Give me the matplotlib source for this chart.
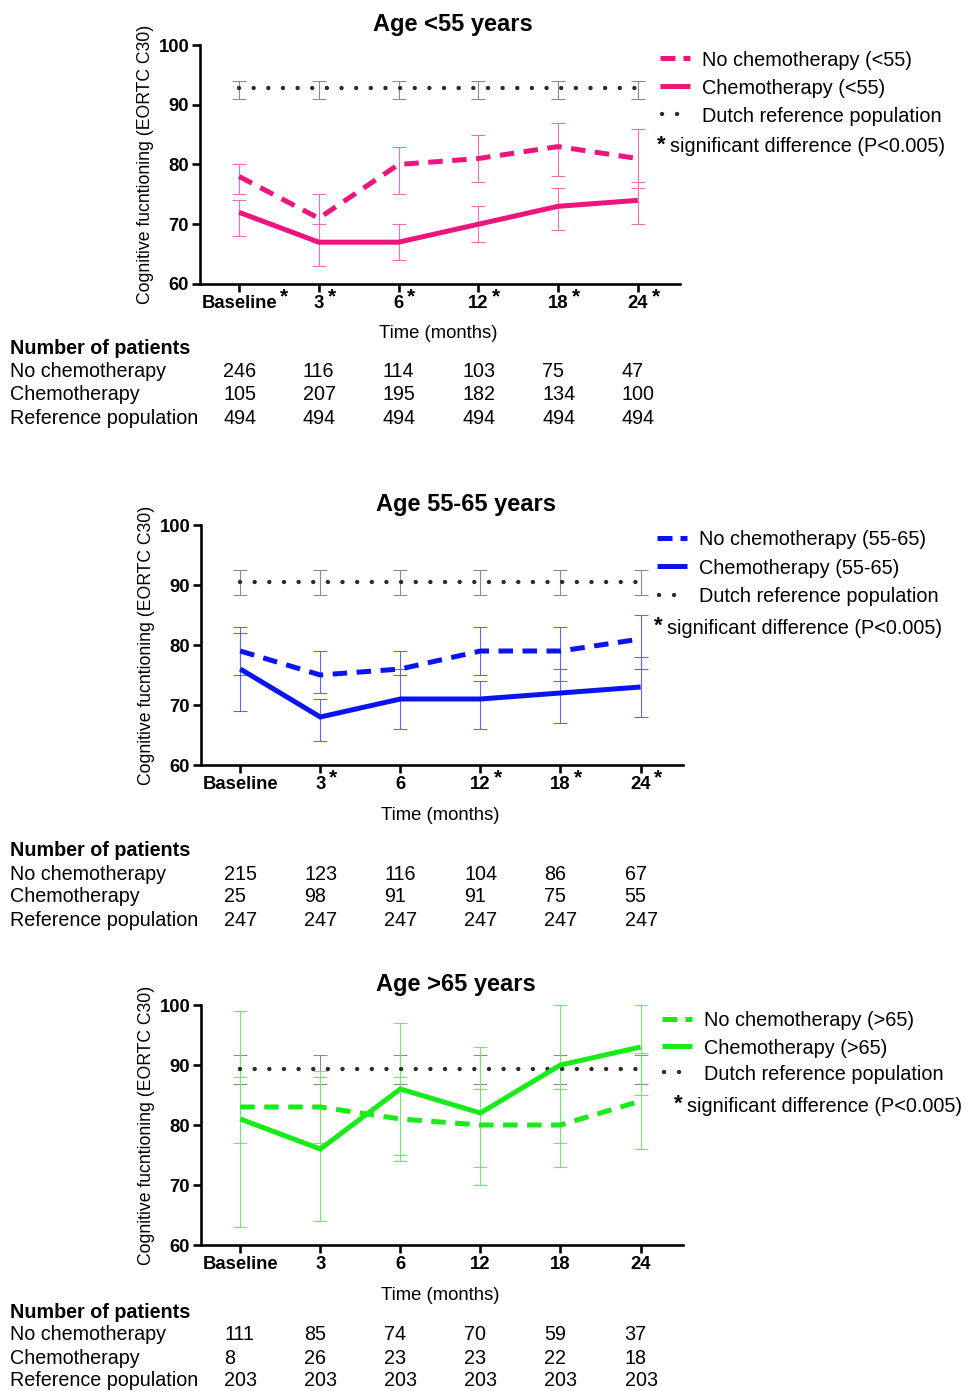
import matplotlib
matplotlib.use("Agg")
import matplotlib.pyplot as plt
from matplotlib.lines import Line2D
from matplotlib.transforms import blended_transform_factory

plt.rcParams['font.family'] = ['Liberation Sans', 'DejaVu Sans']

W, H = 971, 1391
DPI = 100

timepoints = ["Baseline", "3", "6", "12", "18", "24"]

# ---- Age <55 ----
young_ref = [92.8] * 6
young_ref_lo = [91.0] * 6
young_ref_hi = [94.0] * 6
young_nochemo = [78, 71, 80, 81, 83, 81]
young_nochemo_lo = [75, 67, 75, 77, 78, 76]
young_nochemo_hi = [80, 75, 83, 85, 87, 86]
young_chemo = [72, 67, 67, 70, 73, 74]
young_chemo_lo = [68, 63, 64, 67, 69, 70]
young_chemo_hi = [74, 70, 70, 73, 76, 77]
young_sig = [True, True, True, True, True, True]
young_n_nochemo = [246, 116, 114, 103, 75, 47]
young_n_chemo = [105, 207, 195, 182, 134, 100]
young_n_ref = [494, 494, 494, 494, 494, 494]

# ---- Age 55-65 ----
mid_ref = [90.5] * 6
mid_ref_lo = [88.4] * 6
mid_ref_hi = [92.5] * 6
mid_nochemo = [79, 75, 76, 79, 79, 81]
mid_nochemo_lo = [75, 72, 75, 75, 74, 76]
mid_nochemo_hi = [83, 79, 79, 83, 83, 85]
mid_chemo = [76, 68, 71, 71, 72, 73]
mid_chemo_lo = [69, 64, 66, 66, 67, 68]
mid_chemo_hi = [82, 71, 76, 74, 76, 78]
mid_sig = [False, True, False, True, True, True]
mid_n_nochemo = [215, 123, 116, 104, 86, 67]
mid_n_chemo = [25, 98, 91, 91, 75, 55]
mid_n_ref = [247, 247, 247, 247, 247, 247]

# ---- Age >65 ----
old_ref = [89.4] * 6
old_ref_lo = [86.9] * 6
old_ref_hi = [91.7] * 6
old_nochemo = [83, 83, 81, 80, 80, 84]
old_nochemo_lo = [77, 77, 74, 73, 73, 76]
old_nochemo_hi = [88, 89, 88, 86, 86, 92]
old_chemo = [81, 76, 86, 82, 90, 93]
old_chemo_lo = [63, 64, 75, 70, 77, 85]
old_chemo_hi = [99, 88, 97, 93, 100, 100]
old_sig = [False] * 6
old_n_nochemo = [111, 85, 74, 70, 59, 37]
old_n_chemo = [8, 26, 23, 23, 22, 18]
old_n_ref = [203, 203, 203, 203, 203, 203]

fig = plt.figure(figsize=(W / DPI, H / DPI), dpi=DPI)
fig.patch.set_facecolor("white")


def fx(px):
    return px / W


def fy(py):
    return 1 - py / H


def ty_(py):
    # text rows: small downward nudge so centres sit on the intended pixel row
    return 1 - (py + 2) / H


def pt(px):
    return px * 72.0 / DPI


def errbar(ax, x, y, lo, hi, color):
    yerr = [[v - l for v, l in zip(y, lo)], [h - v for v, h in zip(y, hi)]]
    ax.errorbar(x, y, yerr=yerr, fmt="none", ecolor=color, elinewidth=pt(1.1),
                capsize=pt(7), capthick=pt(1.1), zorder=2)


panels = [
    dict(title="Age <55 years", tag="<55", box=(200, 45, 680, 284), title_xy=(453, 22),
         col=(236 / 255, 20 / 255, 125 / 255), ecol=(244 / 255, 110 / 255, 175 / 255),
         ref=young_ref, ref_lo=young_ref_lo, ref_hi=young_ref_hi,
         nc=young_nochemo, nc_lo=young_nochemo_lo, nc_hi=young_nochemo_hi,
         c=young_chemo, c_lo=young_chemo_lo, c_hi=young_chemo_hi, sig=young_sig,
         n=(young_n_nochemo, young_n_chemo, young_n_ref),
         leg=(660, 702, [58, 86, 114, 145], 657), table_y=347, xlabel_y=332),
    dict(title="Age 55-65 years", tag="55-65", box=(201, 525, 683, 765), title_xy=(466, 502),
         col=(10 / 255, 20 / 255, 240 / 255), ecol=(100 / 255, 100 / 255, 230 / 255),
         ref=mid_ref, ref_lo=mid_ref_lo, ref_hi=mid_ref_hi,
         nc=mid_nochemo, nc_lo=mid_nochemo_lo, nc_hi=mid_nochemo_hi,
         c=mid_chemo, c_lo=mid_chemo_lo, c_hi=mid_chemo_hi, sig=mid_sig,
         n=(mid_n_nochemo, mid_n_chemo, mid_n_ref),
         leg=(657, 699, [538, 566, 595, 626], 654), table_y=849, xlabel_y=814),
    dict(title="Age >65 years", tag=">65", box=(201, 1005, 683, 1245), title_xy=(456, 983),
         col=(25 / 255, 235 / 255, 25 / 255), ecol=(120 / 255, 225 / 255, 120 / 255),
         ref=old_ref, ref_lo=old_ref_lo, ref_hi=old_ref_hi,
         nc=old_nochemo, nc_lo=old_nochemo_lo, nc_hi=old_nochemo_hi,
         c=old_chemo, c_lo=old_chemo_lo, c_hi=old_chemo_hi, sig=old_sig,
         n=(old_n_nochemo, old_n_chemo, old_n_ref),
         leg=(662, 704, [1019, 1046, 1072, 1104], 674), table_y=1310, xlabel_y=1294),
]

LW = pt(5.0)
DASH = (2.9, 1.9)
DOT_LW = pt(4.4)
DOT = (0.01, 14.6 / 4.4)
REF_COL = "#2b2b2b"

for p in panels:
    l, t, r, b = p["box"]
    ax = fig.add_axes([fx(l), fy(b), fx(r - l), (b - t) / H])
    x = list(range(len(timepoints)))

    errbar(ax, x, p["ref"], p["ref_lo"], p["ref_hi"], "#8a8a8a")
    errbar(ax, x, p["nc"], p["nc_lo"], p["nc_hi"], p["ecol"])
    errbar(ax, x, p["c"], p["c_lo"], p["c_hi"], p["ecol"])

    ax.plot(x, p["ref"], color=REF_COL, lw=DOT_LW, dashes=DOT,
            dash_capstyle="round", zorder=3)
    ax.plot(x, p["nc"], color=p["col"], lw=LW, dashes=DASH,
            dash_capstyle="butt", zorder=4)
    ax.plot(x, p["c"], color=p["col"], lw=LW, solid_capstyle="butt",
            solid_joinstyle="miter", zorder=5)

    ax.set_xlim(-0.49, 5.53)
    ax.set_ylim(60, 100)
    ax.set_yticks([60, 70, 80, 90, 100])
    ax.set_xticks(x)
    ax.set_xticklabels(timepoints, fontweight="bold", fontsize=13.3)
    for lab in ax.get_yticklabels():
        lab.set_fontweight("bold")
        lab.set_fontsize(13.3)
    for s in ("top", "right"):
        ax.spines[s].set_visible(False)
    for s in ("left", "bottom"):
        ax.spines[s].set_linewidth(pt(2.6))
    ax.tick_params(axis="both", direction="out", length=pt(8), width=pt(2.6), pad=2)
    ax.set_ylabel("Cognitive fucntioning (EORTC C30)", fontsize=12.7, labelpad=3)
    ax.patch.set_alpha(0)

    # significance markers next to time labels
    fig.canvas.draw()
    for lab, s in zip(ax.get_xticklabels(), p["sig"]):
        if s:
            ax.annotate("*", xy=(1, 1), xycoords=lab, xytext=(2.5, 5.5),
                        textcoords="offset points", ha="left", va="top",
                        fontsize=15, fontweight="bold")

    fig.text(fx(p["title_xy"][0]), ty_(p["title_xy"][1]), p["title"], ha="center",
             va="center", fontsize=17, fontweight="bold")
    fig.text(fx((l + r) / 2 - 2), ty_(p["xlabel_y"]), "Time (months)", ha="center",
             va="center", fontsize=13.3)

    # legend
    hx, tx, ys, sx = p["leg"]
    fig.add_artist(Line2D([fx(hx), fx(hx + 30)], [fy(ys[0])] * 2, color=p["col"],
                          lw=LW, dashes=(3.0, 1.6), dash_capstyle="butt"))
    fig.add_artist(Line2D([fx(hx), fx(hx + 30)], [fy(ys[1])] * 2, color=p["col"],
                          lw=LW, solid_capstyle="butt"))
    fig.add_artist(Line2D([fx(hx + 2), fx(hx + 20)], [fy(ys[2])] * 2, color=REF_COL,
                          lw=DOT_LW, dashes=(0.01, 15 / 4.4), dash_capstyle="round"))
    leg_texts = ["No chemotherapy (%s)" % p["tag"], "Chemotherapy (%s)" % p["tag"],
                 "Dutch reference population"]
    for yy, txt in zip(ys[:3], leg_texts):
        fig.text(fx(tx), ty_(yy), txt, ha="left", va="center", fontsize=14.3)
    fig.text(fx(sx), ty_(ys[3] - 2), "*", ha="left", va="center", fontsize=16,
             fontweight="bold")
    fig.text(fx(sx + 13), ty_(ys[3]), "significant difference (P<0.005)", ha="left",
             va="center", fontsize=14.3)

    # number of patients table
    tyy = p["table_y"]
    fig.text(fx(10), ty_(tyy), "Number of patients", ha="left", va="center",
             fontsize=14.2, fontweight="bold")
    trans = blended_transform_factory(ax.transData, fig.transFigure)
    row_names = ["No chemotherapy", "Chemotherapy", "Reference population"]
    for k, (name, counts) in enumerate(zip(row_names, p["n"])):
        yy = ty_(tyy + 23 * (k + 1))
        fig.text(fx(10), yy, name, ha="left", va="center", fontsize=14.2)
        for i, cnt in enumerate(counts):
            ax.text(i - 0.2, yy, str(cnt), transform=trans, ha="left", va="center",
                    fontsize=14.2, clip_on=False)

fig.savefig("out.png", dpi=DPI, facecolor="white")
